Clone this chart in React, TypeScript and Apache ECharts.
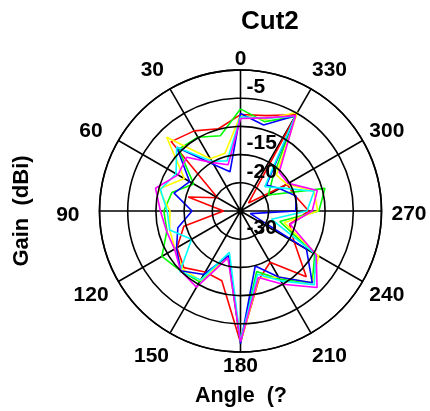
import React, { useEffect, useRef } from 'react';
import * as echarts from 'echarts';

const angles = [0, 15, 30, 45, 60, 75, 90, 105, 120, 135, 150, 165, 180, 195, 210, 225, 240, 255, 270, 285, 300, 315, 330, 345];

const redGain = [-12.9, -14.9, -13.6, -12.6, -25.3, -20.4, -27, -19.6, -17, -15.8, -17.5, -17.2, -6.7, -17.4, -19.5, -13.5, -19, -21, -17.9, -19.9, -20.5, -28, -10.3, -12.5];
const greenGain = [-11.9, -16.2, -14.9, -14.5, -20.4, -17.4, -16.4, -16.5, -13.9, -15, -15.5, -21.5, -6.6, -18.9, -16, -12, -14.8, -22.8, -16.1, -14.5, -24.3, -22, -10.7, -13.6];
const yellowGain = [-13, -19.4, -19.3, -11.5, -18.5, -15, -17.5, -17, -16.6, -15.5, -15.8, -21.5, -6.7, -17.6, -16.5, -12, -14, -22, -16.3, -16.5, -20.5, -21, -9.8, -13.2];
const blueGain = [-12.7, -22.8, -20.5, -14, -19.6, -17.8, -21.4, -18.5, -16.9, -15, -17, -21.8, -6.5, -19.9, -16.5, -12, -16.5, -28.2, -20.2, -19.8, -22, -23.5, -10.5, -14.2];
const cyanGain = [-13.3, -20.8, -19.8, -14, -16.8, -15.3, -17, -17, -20, -14.8, -15.9, -22.4, -7, -18.4, -15.7, -11.5, -14.6, -24.3, -18.2, -16.5, -21.8, -23.9, -10.6, -13];
const magentaGain = [-13.6, -21.5, -20.1, -16.5, -17.2, -14.4, -15.8, -16.4, -16.5, -15, -14.4, -21.4, -6.8, -17.8, -15, -10.8, -14.5, -20.9, -17.3, -15.9, -20.2, -20.3, -10.5, -12.9];

const angleTicks = [0, 30, 60, 90, 120, 150, 180, 210, 240, 270, 300, 330];
const radialLabelsShown = [-5, -15, -20, -30];

const titleText = 'Cut2';
const yName = 'Gain  (dBi)';
const xName = 'Angle  (?';

const FONT = "'Liberation Sans', Arial, Helvetica, sans-serif";

// per-label nudges (top, right, bottom, left) for the angle tick labels
const labelPad: Record<number, number[]> = {
  0: [0, 0, 0, 0],
  30: [0, 5, 8, 0],
  60: [0, 14, 0, 0],
  90: [4, 18, 0, 0],
  120: [0, 8, 0, 0],
  150: [9, 0, 0, 0],
  180: [0, 0, 0, 0],
  210: [9, 0, 0, 0],
  240: [0, 0, 0, 5],
  270: [2, 0, 0, 8],
  300: [0, 0, 0, 5],
  330: [0, 0, 8, 0],
};

export default function App() {
  const ref = useRef<HTMLDivElement>(null);

  useEffect(() => {
    const chart = echarts.init(ref.current as HTMLDivElement, null, { renderer: 'svg' });
    const mk = (name: string, vals: number[], color: string) => ({
      type: 'line',
      name,
      coordinateSystem: 'polar',
      data: [...angles.map((a, i) => [vals[i], a]), [vals[0], 360]],
      symbol: 'none',
      lineStyle: { color, width: 1.6 },
      itemStyle: { color },
      z: 3,
    });
    const rich: Record<string, any> = {};
    angleTicks.forEach((t) => {
      rich['a' + t] = {
        padding: labelPad[t],
        fontFamily: FONT,
        fontWeight: 'bold',
        fontSize: 21,
        color: '#000',
      };
    });
    chart.setOption({
      animation: false,
      title: {
        text: titleText,
        left: 236,
        top: 2,
        textStyle: { fontFamily: FONT, fontWeight: 'bold', fontSize: 26, color: '#000' },
      },
      polar: { center: [240.5, 211], radius: [0, 141] },
      angleAxis: {
        type: 'value',
        min: 0,
        max: 360,
        interval: 30,
        startAngle: 90,
        clockwise: false,
        axisLine: { lineStyle: { color: '#000', width: 1.6 } },
        axisTick: { show: false },
        axisLabel: {
          formatter: (v: number) => (v === 360 ? '' : '{a' + v + '|' + v + '}'),
          rich,
          color: '#000',
          fontWeight: 'bold',
          fontSize: 21,
          fontFamily: FONT,
          margin: 2,
        },
        splitLine: { show: true, lineStyle: { color: '#000', width: 1.6, type: 'solid' } },
      },
      radiusAxis: {
        type: 'value',
        min: -30,
        max: -5,
        interval: 5,
        axisLine: { show: false },
        axisTick: { show: false },
        axisLabel: {
          formatter: (v: number) => (radialLabelsShown.includes(v) ? String(v) : ''),
          color: '#000',
          fontWeight: 'bold',
          fontSize: 21,
          fontFamily: FONT,
          margin: -6,
          align: 'left',
          verticalAlign: 'top',
          padding: [5, 0, 0, 0],
          showMinLabel: true,
          showMaxLabel: true,
          hideOverlap: false,
        },
        splitLine: { show: true, lineStyle: { color: '#000', width: 1.6, type: 'solid' } },
        z: 10,
      },
      series: [
        mk('red', redGain, '#ff0000'),
        mk('green', greenGain, '#00ff00'),
        mk('yellow', yellowGain, '#ffff00'),
        mk('blue', blueGain, '#0000ff'),
        mk('cyan', cyanGain, '#00ffff'),
        mk('magenta', magentaGain, '#ff00ff'),
      ],
      graphic: [
        {
          type: 'text',
          x: 20,
          y: 211,
          rotation: Math.PI / 2,
          style: { text: yName, align: 'center', verticalAlign: 'middle', font: `bold 22px ${FONT}`, fill: '#000' },
        },
        {
          type: 'text',
          x: 241,
          y: 395,
          style: { text: xName, align: 'center', verticalAlign: 'middle', font: `bold 21.5px ${FONT}`, fill: '#000' },
        },
      ],
    });
    return () => chart.dispose();
  }, []);

  return <div ref={ref} style={{ position: 'fixed', left: 0, top: 0, width: 430, height: 411 }} />;
}
